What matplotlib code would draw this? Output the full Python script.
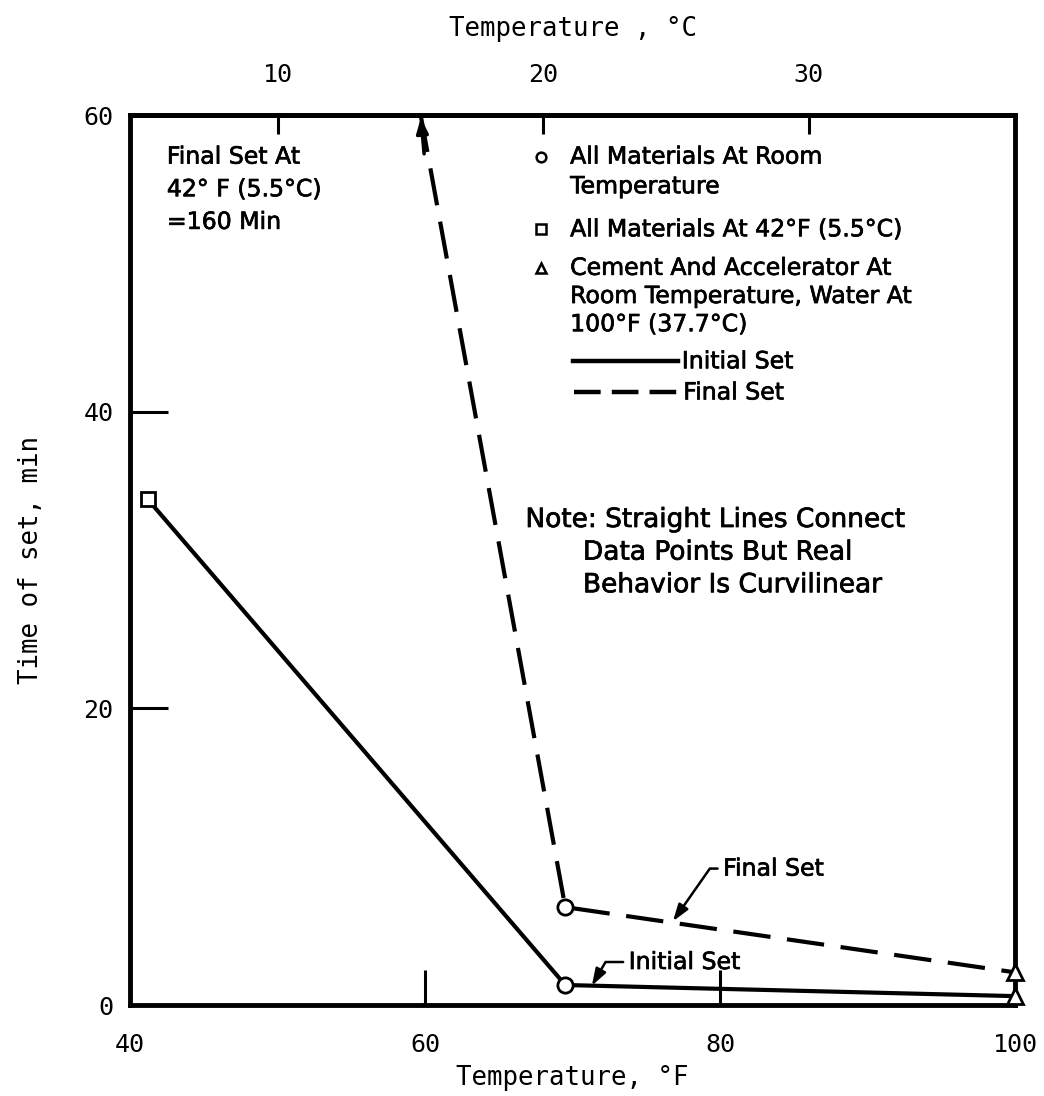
import matplotlib
matplotlib.use("Agg")
import matplotlib.pyplot as plt
from matplotlib.lines import Line2D
import matplotlib.patheffects as pe

# ---- data ----
initial_temp_f = [41.2, 69.5, 100.0]
initial_time = [34.1, 1.35, 0.6]
final_temp_f = [59.7, 69.5, 100.0]
final_time = [60.0, 6.6, 2.2]

x_ticks_f = [40, 60, 80, 100]
y_ticks = [0, 20, 40, 60]
top_ticks_c = [10, 20, 30]

MONO = "DejaVu Sans Mono"
SANS = "DejaVu Sans"
BOLDEN = [pe.withStroke(linewidth=0.5, foreground="black")]

fig = plt.figure(figsize=(10.44, 10.96), dpi=100)
ax = fig.add_axes([0.1245, 0.083, 0.848, 0.812])
ax.set_xlim(40, 100)
ax.set_ylim(0, 60)

for s in ax.spines.values():
    s.set_linewidth(3.5)

lw = 3.0
# initial set (solid)
ax.plot(initial_temp_f, initial_time, color="black", lw=lw, solid_capstyle="butt", zorder=3)
# final set (dashed)
ax.plot(final_temp_f, final_time, color="black", lw=lw, dashes=(9, 4),
        dash_capstyle="butt", zorder=3, clip_on=False)

mk = dict(mfc="white", mec="black", mew=2.0, ls="none", zorder=4, clip_on=False)
ax.plot(initial_temp_f[0], initial_time[0], marker="s", ms=10, **mk)
ax.plot(initial_temp_f[1], initial_time[1], marker="o", ms=11, **mk)
ax.plot(final_temp_f[1], final_time[1], marker="o", ms=11, **mk)
ax.plot(initial_temp_f[2], initial_time[2], marker="^", ms=11, **mk)
ax.plot(final_temp_f[2], final_time[2], marker="^", ms=11, **mk)

# arrowhead at top of final set line (off-scale)
ax.annotate("", xy=(final_temp_f[0], final_time[0]), xytext=(final_temp_f[0] + 0.25, 57.2),
            arrowprops=dict(arrowstyle="-|>,head_length=0.9,head_width=0.35",
                            color="black", lw=2.5), zorder=5, annotation_clip=False)

# ticks
ax.set_xticks(x_ticks_f)
ax.set_yticks(y_ticks)
ax.tick_params(axis="x", direction="in", length=25, width=2.2, pad=20,
               labelsize=18, top=False)
ax.tick_params(axis="y", direction="in", length=27, width=2.2, pad=12,
               labelsize=18, right=False)
for lab in ax.get_xticklabels() + ax.get_yticklabels():
    lab.set_fontfamily(MONO)

ax.set_xlabel("Temperature, °F", fontsize=18.5, fontfamily=MONO, labelpad=6)
ax.set_ylabel("Time of set, min", fontsize=18.5, fontfamily=MONO, labelpad=28)

f2c = lambda f: (f - 32.0) * 5.0 / 9.0
c2f = lambda c: c * 9.0 / 5.0 + 32.0
sec = ax.secondary_xaxis("top", functions=(f2c, c2f))
sec.set_xticks(top_ticks_c)
sec.tick_params(direction="in", length=14, width=2.2, pad=20, labelsize=18)
for lab in sec.get_xticklabels():
    lab.set_fontfamily(MONO)
sec.set_xlabel("Temperature , °C", fontsize=18.5, fontfamily=MONO, labelpad=20)
sec.spines["top"].set_linewidth(3.5)

# ---- annotations ----
tk = dict(fontsize=17, fontfamily=SANS, va="center", ha="left", color="black",
          path_effects=BOLDEN)
ax.text(42.5, 57.2, "Final Set At", **tk)
ax.text(42.5, 55.0, "42° F (5.5°C)", **tk)
ax.text(42.5, 52.8, "=160 Min", **tk)

leg_x = 67.86
txt_x = 69.83
ax.plot(leg_x, 57.2, marker="o", ms=7, mfc="white", mec="black", mew=1.8)
ax.text(txt_x, 57.2, "All Materials At Room", **tk)
ax.text(txt_x, 55.2, "Temperature", **tk)
ax.plot(leg_x, 52.3, marker="s", ms=6.5, mfc="white", mec="black", mew=1.8)
ax.text(txt_x, 52.3, "All Materials At 42°F (5.5°C)", **tk)
ax.plot(leg_x, 49.7, marker="^", ms=7, mfc="white", mec="black", mew=1.8)
ax.text(txt_x, 49.7, "Cement And Accelerator At", **tk)
ax.text(txt_x, 47.8, "Room Temperature, Water At", **tk)
ax.text(txt_x, 45.9, "100°F (37.7°C)", **tk)

ax.add_line(Line2D([70.03, 77.15], [43.4, 43.4], color="black", lw=3.2))
ax.text(77.4, 43.4, "Initial Set", **tk)
ax.add_line(Line2D([70.1, 77.3], [41.3, 41.3], color="black", lw=3.2, dashes=(6, 2.5)))
ax.text(77.5, 41.3, "Final Set", **tk)

nk = dict(tk, fontsize=19)
ax.text(66.8, 32.7, "Note: Straight Lines Connect", **nk)
ax.text(70.7, 30.5, "Data Points But Real", **nk)
ax.text(70.7, 28.3, "Behavior Is Curvilinear", **nk)

ax.annotate("Final Set", xy=(76.8, 5.65), xytext=(80.2, 9.2),
            fontsize=17, fontfamily=SANS, va="center", ha="left", path_effects=BOLDEN,
            arrowprops=dict(arrowstyle="-|>,head_length=0.6,head_width=0.2", color="black",
                            lw=1.8, connectionstyle="angle,angleA=0,angleB=55,rad=0",
                            shrinkA=2, shrinkB=0))
ax.annotate("Initial Set", xy=(71.3, 1.3), xytext=(73.8, 2.9),
            fontsize=17, fontfamily=SANS, va="center", ha="left", path_effects=BOLDEN,
            arrowprops=dict(arrowstyle="-|>,head_length=0.6,head_width=0.2", color="black",
                            lw=1.8, connectionstyle="angle,angleA=0,angleB=60,rad=0",
                            shrinkA=2, shrinkB=0))

fig.savefig("out.png", dpi=100)
